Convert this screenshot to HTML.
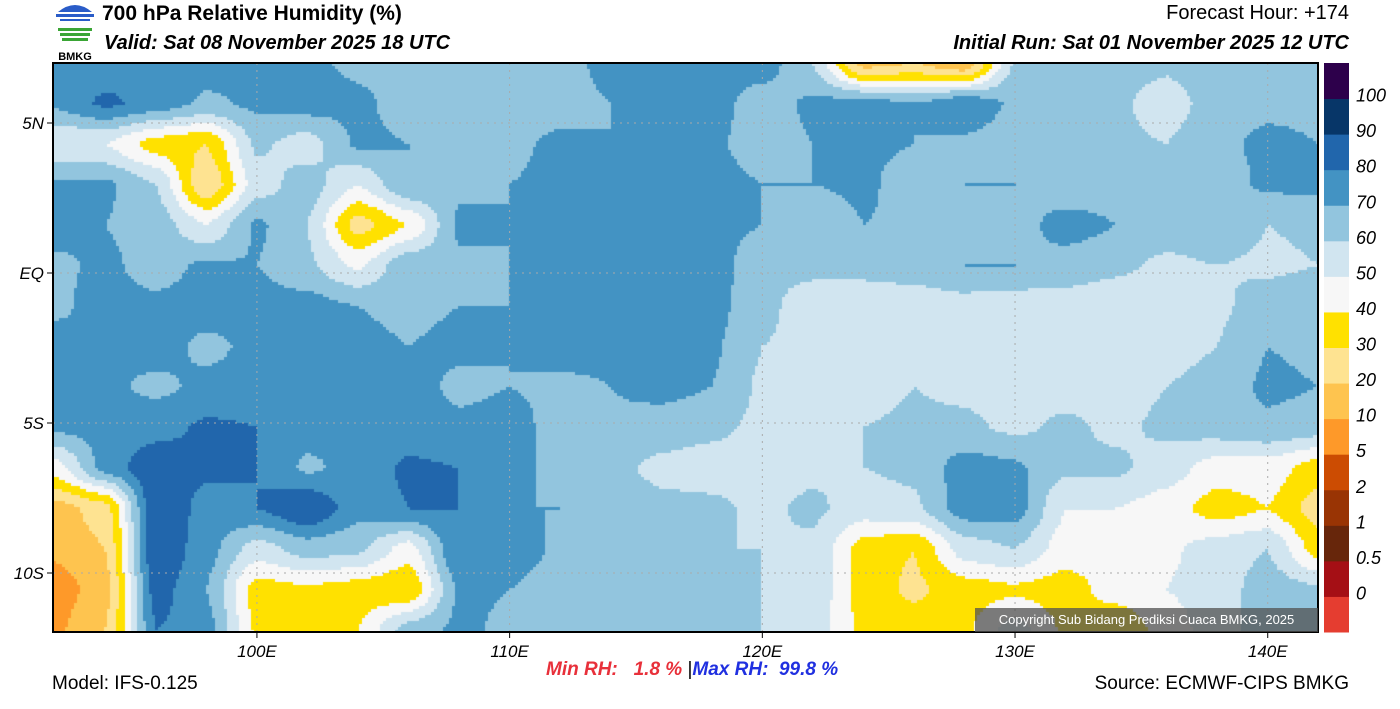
<!DOCTYPE html>
<html><head><meta charset="utf-8">
<style>
html,body{margin:0;padding:0;background:#fff;}
body{width:1400px;height:709px;position:relative;overflow:hidden;font-family:"Liberation Sans",Arial,sans-serif;color:#000;}
.t{position:absolute;white-space:nowrap;}
</style></head>
<body>
<div style="position:absolute;left:52px;top:0;width:46px;height:62px;">
  <svg width="46" height="62" viewBox="0 0 46 62">
    <path d="M6 12 Q23 -2 40 12 Z" fill="#2a5cc8"/>
    <rect x="4" y="14" width="38" height="3" fill="#2a5cc8"/>
    <rect x="8" y="19" width="30" height="2" fill="#2a5cc8"/>
    <rect x="6" y="28" width="34" height="3" fill="#3aa535"/>
    <rect x="8" y="33" width="30" height="3" fill="#3aa535"/>
    <rect x="10" y="38" width="26" height="3" fill="#3aa535"/>
    <text x="23" y="60" font-size="11" font-weight="bold" text-anchor="middle" font-family="Liberation Sans, sans-serif">BMKG</text>
  </svg>
</div>
<div class="t" style="left:102px;top:2px;font-size:21px;font-weight:bold;">700 hPa Relative Humidity (%)</div>
<div class="t" style="left:104px;top:32px;font-size:20px;font-weight:bold;font-style:italic;">Valid: Sat 08 November 2025 18 UTC</div>
<div class="t" style="right:51px;top:2px;font-size:20px;">Forecast Hour: +174</div>
<div class="t" style="right:51px;top:32px;font-size:20px;font-weight:bold;font-style:italic;">Initial Run: Sat 01 November 2025 12 UTC</div>

<canvas id="map" width="1265" height="569" style="position:absolute;left:53px;top:63px;"></canvas>
<svg id="over" width="1400" height="709" style="position:absolute;left:0;top:0;"></svg>

<div style="position:absolute;left:975px;top:608px;width:343px;height:24px;background:rgba(80,80,80,0.75);color:#fff;font-size:13px;line-height:24px;text-align:center;">Copyright Sub Bidang Prediksi Cuaca BMKG, 2025</div>

<div class="t" style="left:546px;top:659px;font-size:19px;font-weight:bold;font-style:italic;"><span style="color:#e8303a;">Min RH:&nbsp;&nbsp;&nbsp;1.8 %</span>&nbsp;<span style="font-style:normal;font-weight:normal;">|</span><span style="color:#2030e0;">Max RH:&nbsp;&nbsp;99.8 %</span></div>
<div class="t" style="left:52px;top:673px;font-size:19px;">Model: IFS-0.125</div>
<div class="t" style="right:51px;top:673px;font-size:19px;">Source: ECMWF-CIPS BMKG</div>

<script>
// ---- data ----
const lons = [92,94,96,98,100,102,104,106,108,110,112,114,116,118,120,122,124,126,128,130,132,134,136,138,140,142];
const lats = [7,5.65,4.3,2.95,1.6,0.25,-1.1,-2.45,-3.8,-5.15,-6.5,-7.85,-9.2,-10.55,-11.9];
const rh0 = [72,74,80,75,75,72,68,66,66,62,65,74,74,74,75,60,15,20,10,62,68,65,62,68,70,68];
const rh1 = [72,82,76,68,72,75,72,66,70,64,66,70,76,74,65,72,75,70,78,68,70,62,55,65,68,68];
const rh2 = [50,50,35,30,62,55,72,70,66,68,72,70,74,72,65,70,72,70,68,65,70,62,60,68,72,70];
const rh3 = [72,72,60,20,55,65,50,70,68,70,72,74,76,74,70,70,72,65,70,70,62,65,70,65,72,72];
const rh4 = [74,70,66,50,72,60,25,40,72,70,72,74,78,74,70,62,70,68,65,65,75,70,65,68,60,62];
const rh5 = [68,72,66,72,70,62,48,68,68,70,74,72,76,76,62,62,62,65,70,70,65,62,58,60,58,60];
const rh6 = [68,74,72,74,74,74,70,68,70,70,72,74,76,74,62,56,56,54,56,54,56,54,52,58,65,68];
const rh7 = [74,70,74,68,72,74,72,70,72,70,74,72,74,72,60,58,56,54,58,52,54,54,56,60,70,68];
const rh8 = [74,72,68,72,74,72,72,74,68,70,68,70,74,70,58,60,56,60,58,54,56,56,60,64,72,70];
const rh9 = [72,74,76,82,80,74,72,74,72,74,66,68,64,62,58,55,60,62,62,58,62,58,62,65,68,65];
const rh10 = [45,74,88,82,80,68,74,82,80,74,66,62,58,56,55,58,60,62,75,72,62,62,55,45,45,35];
const rh11 = [15,25,90,76,80,90,74,80,80,70,70,66,62,62,58,62,55,58,75,75,50,50,45,35,40,25];
const rh12 = [12,20,90,74,55,65,62,45,80,76,68,70,62,60,60,58,35,30,55,60,45,45,48,55,60,35];
const rh13 = [5,15,85,70,35,38,35,30,72,70,65,62,60,62,60,58,35,28,35,38,35,45,50,55,65,62];
const rh14 = [8,20,80,75,38,35,40,65,72,68,65,62,60,62,60,55,38,35,38,55,38,30,45,55,65,65];
const rhRows = [rh0,rh1,rh2,rh3,rh4,rh5,rh6,rh7,rh8,rh9,rh10,rh11,rh12,rh13,rh14];
const levels = [0,0.5,1,2,5,10,20,30,40,50,60,70,80,90,100];
const levelLabels = ["0","0.5","1","2","5","10","20","30","40","50","60","70","80","90","100"];
const colors = ["#e53d30","#a50f15","#67260b","#993404","#cc4c02","#fe9929","#fec44f","#fee391","#ffe100","#f7f7f7","#d1e5f0","#92c5de","#4393c3","#2166ac","#073668","#2d004b"];
const lonTicks = [100,110,120,130,140];
const latTicks = [5,0,-5,-10];
const latTickLabels = ["5N","EQ","5S","10S"];

// ---- axes ----
const MX0=53, MY0=63, MW=1265, MH=569;
const xOf = lon => MX0 + (lon-91.93)*25.27;
const yOf = lat => MY0 + (7-lat)*30;
function colorFor(v){let i=0;while(i<levels.length && v>=levels[i]) i++;return colors[i];}
function sample(lon,lat){
  let fi=(lon-lons[0])/(lons[1]-lons[0]);
  fi=Math.max(0,Math.min(lons.length-1.0001,fi));
  let j=0; while(j<lats.length-2 && lat<lats[j+1]) j++;
  let fj=(lats[j]-lat)/(lats[j]-lats[j+1]); fj=Math.max(0,Math.min(1,fj));
  const i=Math.floor(fi), tx=fi-i;
  const a=rhRows[j][i],b=rhRows[j][i+1],c=rhRows[j+1][i],d=rhRows[j+1][i+1];
  const sx=tx*tx*(3-2*tx)*0.5+tx*0.5, sy=fj*fj*(3-2*fj)*0.5+fj*0.5;
  return (a*(1-sx)+b*sx)*(1-sy)+(c*(1-sx)+d*sx)*sy;
}
const cv=document.getElementById('map'), ctx=cv.getContext('2d');
const step=3;
for(let py=0;py<MH;py+=step){
  for(let px=0;px<MW;px+=step){
    const lon=91.93+(px+step/2)/25.27;
    const lat=7-(py+step/2)/30;
    ctx.fillStyle=colorFor(sample(lon,lat));
    ctx.fillRect(px,py,step,step);
  }
}
// ---- overlay svg ----
const NS="http://www.w3.org/2000/svg", svg=document.getElementById('over');
function mk(tag,attrs){const e=document.createElementNS(NS,tag);for(const k in attrs)e.setAttribute(k,attrs[k]);svg.appendChild(e);return e;}
lonTicks.forEach((lon,i)=>{
  const x=xOf(lon);
  const g=mk('line',{x1:x,y1:MY0,x2:x,y2:MY0+MH,stroke:'#aaa','stroke-width':1,'stroke-dasharray':'2,5'});
  
  
  const tk=mk('line',{x1:x,y1:MY0+MH,x2:x,y2:MY0+MH+6,stroke:'#000','stroke-width':1});
  
  
  const t=mk('text',{x:x,y:657,'font-size':17,'font-style':'italic','text-anchor':'middle','font-family':'Liberation Sans, sans-serif'});
  t.textContent=lon+'E';
  
  
});
latTicks.forEach((lat,i)=>{
  const y=yOf(lat);
  const g=mk('line',{x1:MX0,y1:y,x2:MX0+MW,y2:y,stroke:'#aaa','stroke-width':1,'stroke-dasharray':'2,5'});
  
  
  const tk=mk('line',{x1:MX0-6,y1:y,x2:MX0,y2:y,stroke:'#000','stroke-width':1});
  
  
  const t=mk('text',{x:44,y:y+6,'font-size':17,'font-style':'italic','text-anchor':'end','font-family':'Liberation Sans, sans-serif'});
  t.textContent=latTickLabels[i];
  
  
});
const fr=mk('rect',{x:MX0,y:MY0,width:MW,height:MH,fill:'none',stroke:'#000','stroke-width':2});


// colorbar
const CBX=1324, CBW=25, segH=MH/colors.length;
colors.forEach((c,i)=>{
  const y=MY0+MH-(i+1)*segH;
  const r=mk('rect',{x:CBX,y:y,width:CBW,height:segH+0.5,fill:c});
  
  
});
levelLabels.forEach((lab,i)=>{
  const y=MY0+MH-(i+1)*segH;
  const t=mk('text',{x:1356,y:y+3,'font-size':18,'font-style':'italic','font-family':'Liberation Sans, sans-serif'});
  t.textContent=lab;
  
  
});
</script>
</body></html>
